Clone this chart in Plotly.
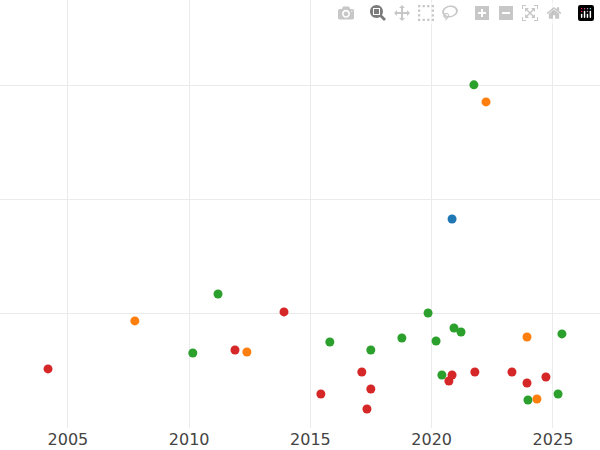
import plotly.graph_objects as go

# series: (year, value)
green_x = [2021.74, 2011.19, 2010.15, 2015.80, 2017.49, 2018.77, 2019.85, 2020.18, 2020.92, 2021.21, 2020.42, 2023.97, 2025.21, 2025.37]
green_y = [3.01, 1.175, 0.658, 0.754, 0.684, 0.789, 1.009, 0.763, 0.877, 0.842, 0.465, 0.246, 0.298, 0.825]
orange_x = [2022.24, 2007.76, 2012.38, 2023.93, 2024.34]
orange_y = [2.86, 0.939, 0.667, 0.798, 0.254]
blue_x = [2020.84]
blue_y = [1.833]
red_x = [2004.18, 2011.89, 2013.91, 2015.43, 2017.12, 2017.49, 2017.33, 2020.71, 2020.84, 2021.78, 2023.31, 2023.93, 2024.71]
red_y = [0.518, 0.684, 1.018, 0.298, 0.491, 0.342, 0.167, 0.412, 0.465, 0.491, 0.491, 0.395, 0.447]

tick_years = [2005, 2010, 2015, 2020, 2025]

fig = go.Figure()
for xs, ys, col in [(green_x, green_y, "#2ca02c"), (orange_x, orange_y, "#ff7f0e"),
                    (blue_x, blue_y, "#1f77b4"), (red_x, red_y, "#d62728")]:
    fig.add_trace(go.Scatter(x=xs, y=ys, mode="markers",
                             marker=dict(color=col, size=9), showlegend=False))

fig.update_layout(width=600, height=450, plot_bgcolor="white", paper_bgcolor="white",
                  margin=dict(l=0, r=0, t=0, b=22),
                  font=dict(family="DejaVu Sans", size=16, color="#444"))
fig.update_xaxes(range=[2002.2, 2026.94], tickvals=tick_years,
                 ticktext=[str(t) for t in tick_years],
                 showgrid=True, gridcolor="#ebebeb", zeroline=False, showline=False)
fig.update_yaxes(range=[0, 3.754], tickvals=[1, 2, 3], showticklabels=False,
                 showgrid=True, gridcolor="#ebebeb", zeroline=False, showline=False)

# drop the browser's default page margin so the figure sits at the corner
fig.write_html("out.html", post_script="document.body.style.margin='0';")
